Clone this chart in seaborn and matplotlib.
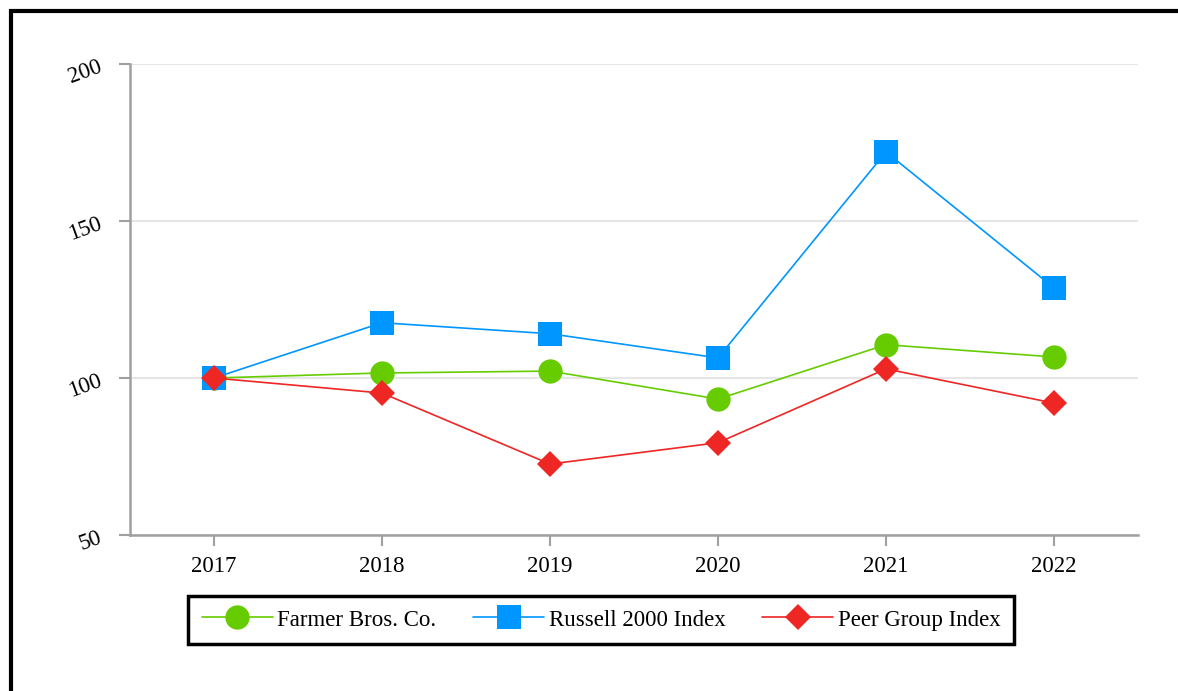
import matplotlib
matplotlib.use("Agg")
import matplotlib.pyplot as plt
import seaborn as sns
import pandas as pd
from matplotlib.patches import Rectangle
from matplotlib.lines import Line2D

years = ["2017", "2018", "2019", "2020", "2021", "2022"]
farmer = [100, 101.6, 102.2, 93.3, 110.6, 106.7]
russell = [100, 117.6, 114.1, 106.4, 172.0, 128.7]
peer = [100, 95.2, 72.6, 79.4, 102.9, 92.0]
series_names = ["Farmer Bros. Co.", "Russell 2000 Index", "Peer Group Index"]
yticks = [50, 100, 150, 200]

colors = ["#66cc00", "#0096ff", "#ee2624"]
markers = ["o", "s", "D"]
msizes = [17.5, 17.5, 13.5]

sns.set_style("white")
plt.rcParams["font.family"] = ["Liberation Serif", "DejaVu Serif"]
plt.rcParams["text.color"] = "black"
plt.rcParams["xtick.labelcolor"] = "black"
plt.rcParams["ytick.labelcolor"] = "black"

df = pd.DataFrame({"year": years * 3,
                   "value": farmer + russell + peer,
                   "series": sum([[n] * len(years) for n in series_names], [])})

fig = plt.figure(figsize=(11.78, 6.91), dpi=100)
ax = fig.add_axes([130 / 1178, 1 - 535 / 691, 1008 / 1178, 471 / 691])

for name, c, m, s in zip(series_names, colors, markers, msizes):
    sub = df[df["series"] == name]
    sns.lineplot(data=sub, x="year", y="value", ax=ax, color=c, linewidth=1.2,
                 marker=m, markersize=s, markeredgewidth=0, sort=False,
                 legend=False, zorder=3)

ax.set_xlim(-0.5, 5.5)
ax.set_ylim(50, 200)
ax.set_yticks(yticks)
ax.set_yticklabels([str(t) for t in yticks], rotation=20, fontsize=16.5)
ax.tick_params(axis="x", labelsize=16.5, length=8, width=1.5, color="#a0a0a0",
               direction="out", pad=7, bottom=True, labelcolor="black")
ax.tick_params(axis="y", length=8, width=1.5, color="#a0a0a0",
               direction="out", pad=10, left=True, labelcolor="black")
ax.set_xlabel("")
ax.set_ylabel("")
ax.yaxis.grid(True, color="#e6e6e6", linewidth=1.5)
ax.xaxis.grid(False)
for sp in ["top", "right"]:
    ax.spines[sp].set_visible(False)
for sp in ["left", "bottom"]:
    ax.spines[sp].set_color("#a0a0a0")
    ax.spines[sp].set_linewidth(1.8)

handles = [Line2D([0], [0], color=c, marker=m, markersize=s, markeredgewidth=0,
                  linewidth=1.2)
           for c, m, s in zip(colors, markers, msizes)]
leg = fig.legend(handles, series_names, loc="center",
                 bbox_to_anchor=(601 / 1178, 1 - 620 / 691), ncol=3,
                 fontsize=16.5, frameon=True, fancybox=False, handlelength=3.1,
                 columnspacing=1.6, handletextpad=0.2, borderpad=0.6,
                 framealpha=1)
leg.get_frame().set_edgecolor("black")
leg.get_frame().set_linewidth(2.5)

fig.patches.append(Rectangle((11 / 1178, -0.1), 1.2, 1 - 11 / 691 + 0.1,
                             transform=fig.transFigure, fill=False,
                             edgecolor="black", linewidth=3, zorder=10))

fig.savefig("out.png", dpi=100, facecolor="white")
